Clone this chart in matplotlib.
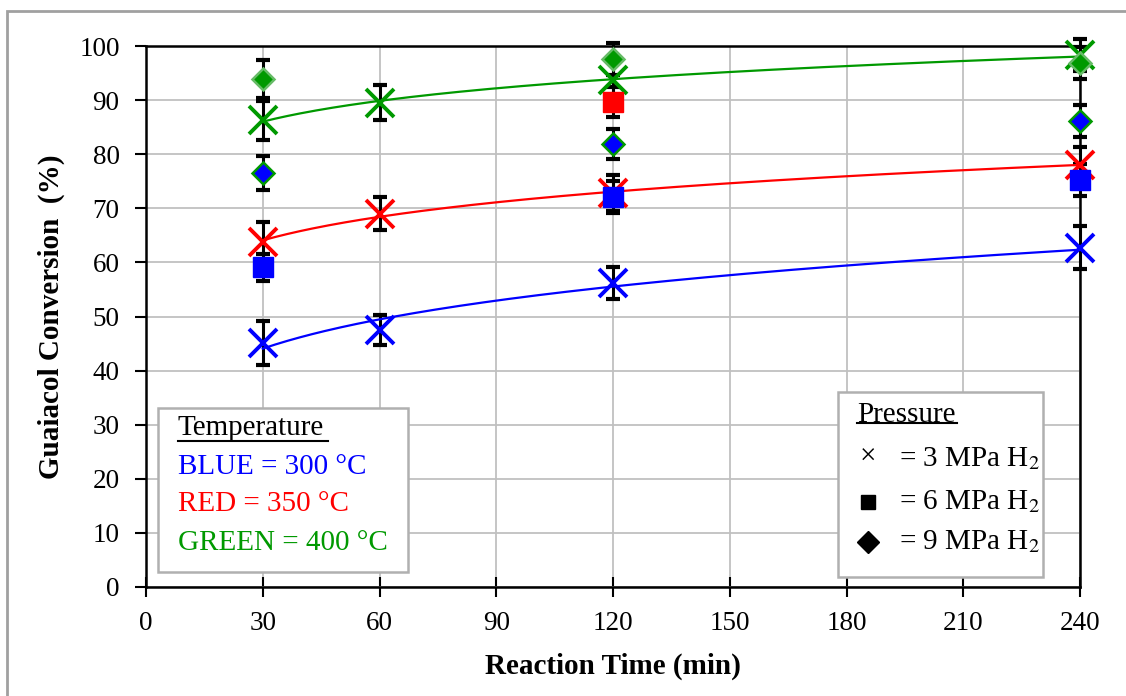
import matplotlib
matplotlib.use("Agg")
import matplotlib.pyplot as plt
from matplotlib.patches import Rectangle
from matplotlib.lines import Line2D
import numpy as np

plt.rcParams['font.family'] = ['Liberation Serif', 'DejaVu Serif']
plt.rcParams['mathtext.fontset'] = 'stix'

# 3 MPa H2 (x markers), with fitted power trend lines
times = [30, 60, 120, 240]
x300 = [45.1, 47.5, 56.2, 62.7]
x300_err = [4.0, 2.7, 2.9, 4.0]
x350 = [63.8, 69.0, 72.8, 78.0]
x350_err = [3.6, 3.0, 3.3, 3.3]
x400 = [86.3, 89.5, 93.7, 98.3]
x400_err = [3.6, 3.2, 3.4, 3.0]

# 6 MPa H2 (squares)
sq_t = [30, 120, 120, 240]
sq_y = [59.1, 72.1, 89.6, 75.2]
sq_err = [2.5, 3.0, 2.8, 3.0]
sq_col = ['blue', 'blue', 'red', 'blue']

# 9 MPa H2 (diamonds)
dm_t = [30, 30, 120, 120, 240, 240]
dm_y = [93.9, 76.5, 97.6, 81.9, 96.9, 86.1]
dm_err = [3.5, 3.1, 3.0, 2.8, 3.0, 3.0]
dm_face = ['#009900', 'blue', '#009900', 'blue', '#009900', 'blue']
dm_edge = ['#66bb66', '#009900', '#66bb66', '#009900', '#66bb66', '#009900']

fig = plt.figure(figsize=(11.26, 6.96), dpi=100)
ax = fig.add_axes([146 / 1126, 1 - 587 / 696, 934 / 1126, 541 / 696])

ebkw = dict(fmt='none', ecolor='black', elinewidth=2.2, capsize=5, capthick=3, zorder=3)


def errbars(t, y, e):
    cont = ax.errorbar(t, y, yerr=e, **ebkw)
    for art in cont.lines[1] + cont.lines[2]:
        art.set_clip_on(False)


# error bars first, markers on top
for t, y, e in [(times, x300, x300_err), (times, x350, x350_err), (times, x400, x400_err)]:
    errbars(t, y, e)
errbars(sq_t, sq_y, sq_err)
errbars(dm_t, dm_y, dm_err)

tt = np.linspace(30, 240, 200)
for y, c in [(x300, 'blue'), (x350, 'red'), (x400, '#009900')]:
    a, b = np.polyfit(np.log(times), np.log(y), 1)
    ax.plot(tt, np.exp(b) * tt ** a, color=c, lw=1.6, zorder=4)
    ax.plot(times, y, 'x', color=c, ms=20, mew=2.8, zorder=5, clip_on=False)

for t, y, c in zip(sq_t, sq_y, sq_col):
    ax.plot(t, y, 's', color=c, ms=14, zorder=5, clip_on=False)

for t, y, fc, ec in zip(dm_t, dm_y, dm_face, dm_edge):
    ax.plot(t, y, 'D', mfc=fc, mec=ec, mew=1.8, ms=11, zorder=5, clip_on=False)

ax.set_xlim(0, 240)
ax.set_ylim(0, 100)
ax.set_xticks(range(0, 241, 30))
ax.set_yticks(range(0, 101, 10))
ax.grid(True, color='#c0c0c0', lw=1.3)
ax.set_axisbelow(True)
for s in ax.spines.values():
    s.set_linewidth(1.8)
    s.set_color('black')
    s.set_zorder(4.5)
ax.tick_params(axis='y', direction='out', length=8, width=1.5, labelsize=19.5, pad=11)
ax.tick_params(axis='x', direction='inout', length=14, width=1.5, labelsize=19.5, pad=10)
ax.set_xlabel('Reaction Time (min)', fontsize=21, fontweight='bold', labelpad=12)
ax.set_ylabel('Guaiacol Conversion  (%)', fontsize=21, fontweight='bold', labelpad=10)

# temperature box
tr = ax.transAxes
ax.add_patch(Rectangle((0.0128, 0.0277), 0.2677, 0.3033, transform=tr, facecolor='white',
                       edgecolor='#b0b0b0', lw=1.8, zorder=6))
fs = 21
ax.text(0.034, 0.294, 'Temperature', transform=tr, fontsize=fs, va='center', zorder=7)
ax.add_line(Line2D([0.034, 0.195], [0.270, 0.270], transform=tr, color='black', lw=1.5, zorder=7))
ax.text(0.034, 0.222, 'BLUE = 300 °C', transform=tr, fontsize=fs, va='center', color='blue', zorder=7)
ax.text(0.034, 0.153, 'RED = 350 °C', transform=tr, fontsize=fs, va='center', color='red', zorder=7)
ax.text(0.034, 0.081, 'GREEN = 400 °C', transform=tr, fontsize=fs, va='center', color='#009900', zorder=7)

# pressure box
ax.add_patch(Rectangle((0.741, 0.0185), 0.219, 0.3415, transform=tr, facecolor='white',
                       edgecolor='#b0b0b0', lw=1.8, zorder=6))
ax.text(0.761, 0.318, 'Pressure', transform=tr, fontsize=fs, va='center', zorder=7)
ax.add_line(Line2D([0.761, 0.868], [0.303, 0.303], transform=tr, color='black', lw=1.5, zorder=7))
ax.text(0.773, 0.238, '×', transform=tr, fontsize=fs, va='center', ha='center', zorder=7)
ax.plot(0.773, 0.157, 's', color='black', ms=9.5, transform=tr, zorder=7, clip_on=False)
ax.plot(0.773, 0.083, 'D', color='black', ms=11.5, transform=tr, zorder=7, clip_on=False)
for yy, p in [(0.238, '3'), (0.157, '6'), (0.083, '9')]:
    ax.text(0.806, yy, '= ' + p + ' MPa H$_2$', transform=tr, fontsize=fs, va='center', zorder=7)

# outer frame
fig.add_artist(Rectangle((7 / 1126, -0.1), 1.2, 0.1 + (696 - 11) / 696, transform=fig.transFigure,
                         fill=False, edgecolor='#a0a0a0', lw=2))

fig.savefig('out.png', dpi=100)
